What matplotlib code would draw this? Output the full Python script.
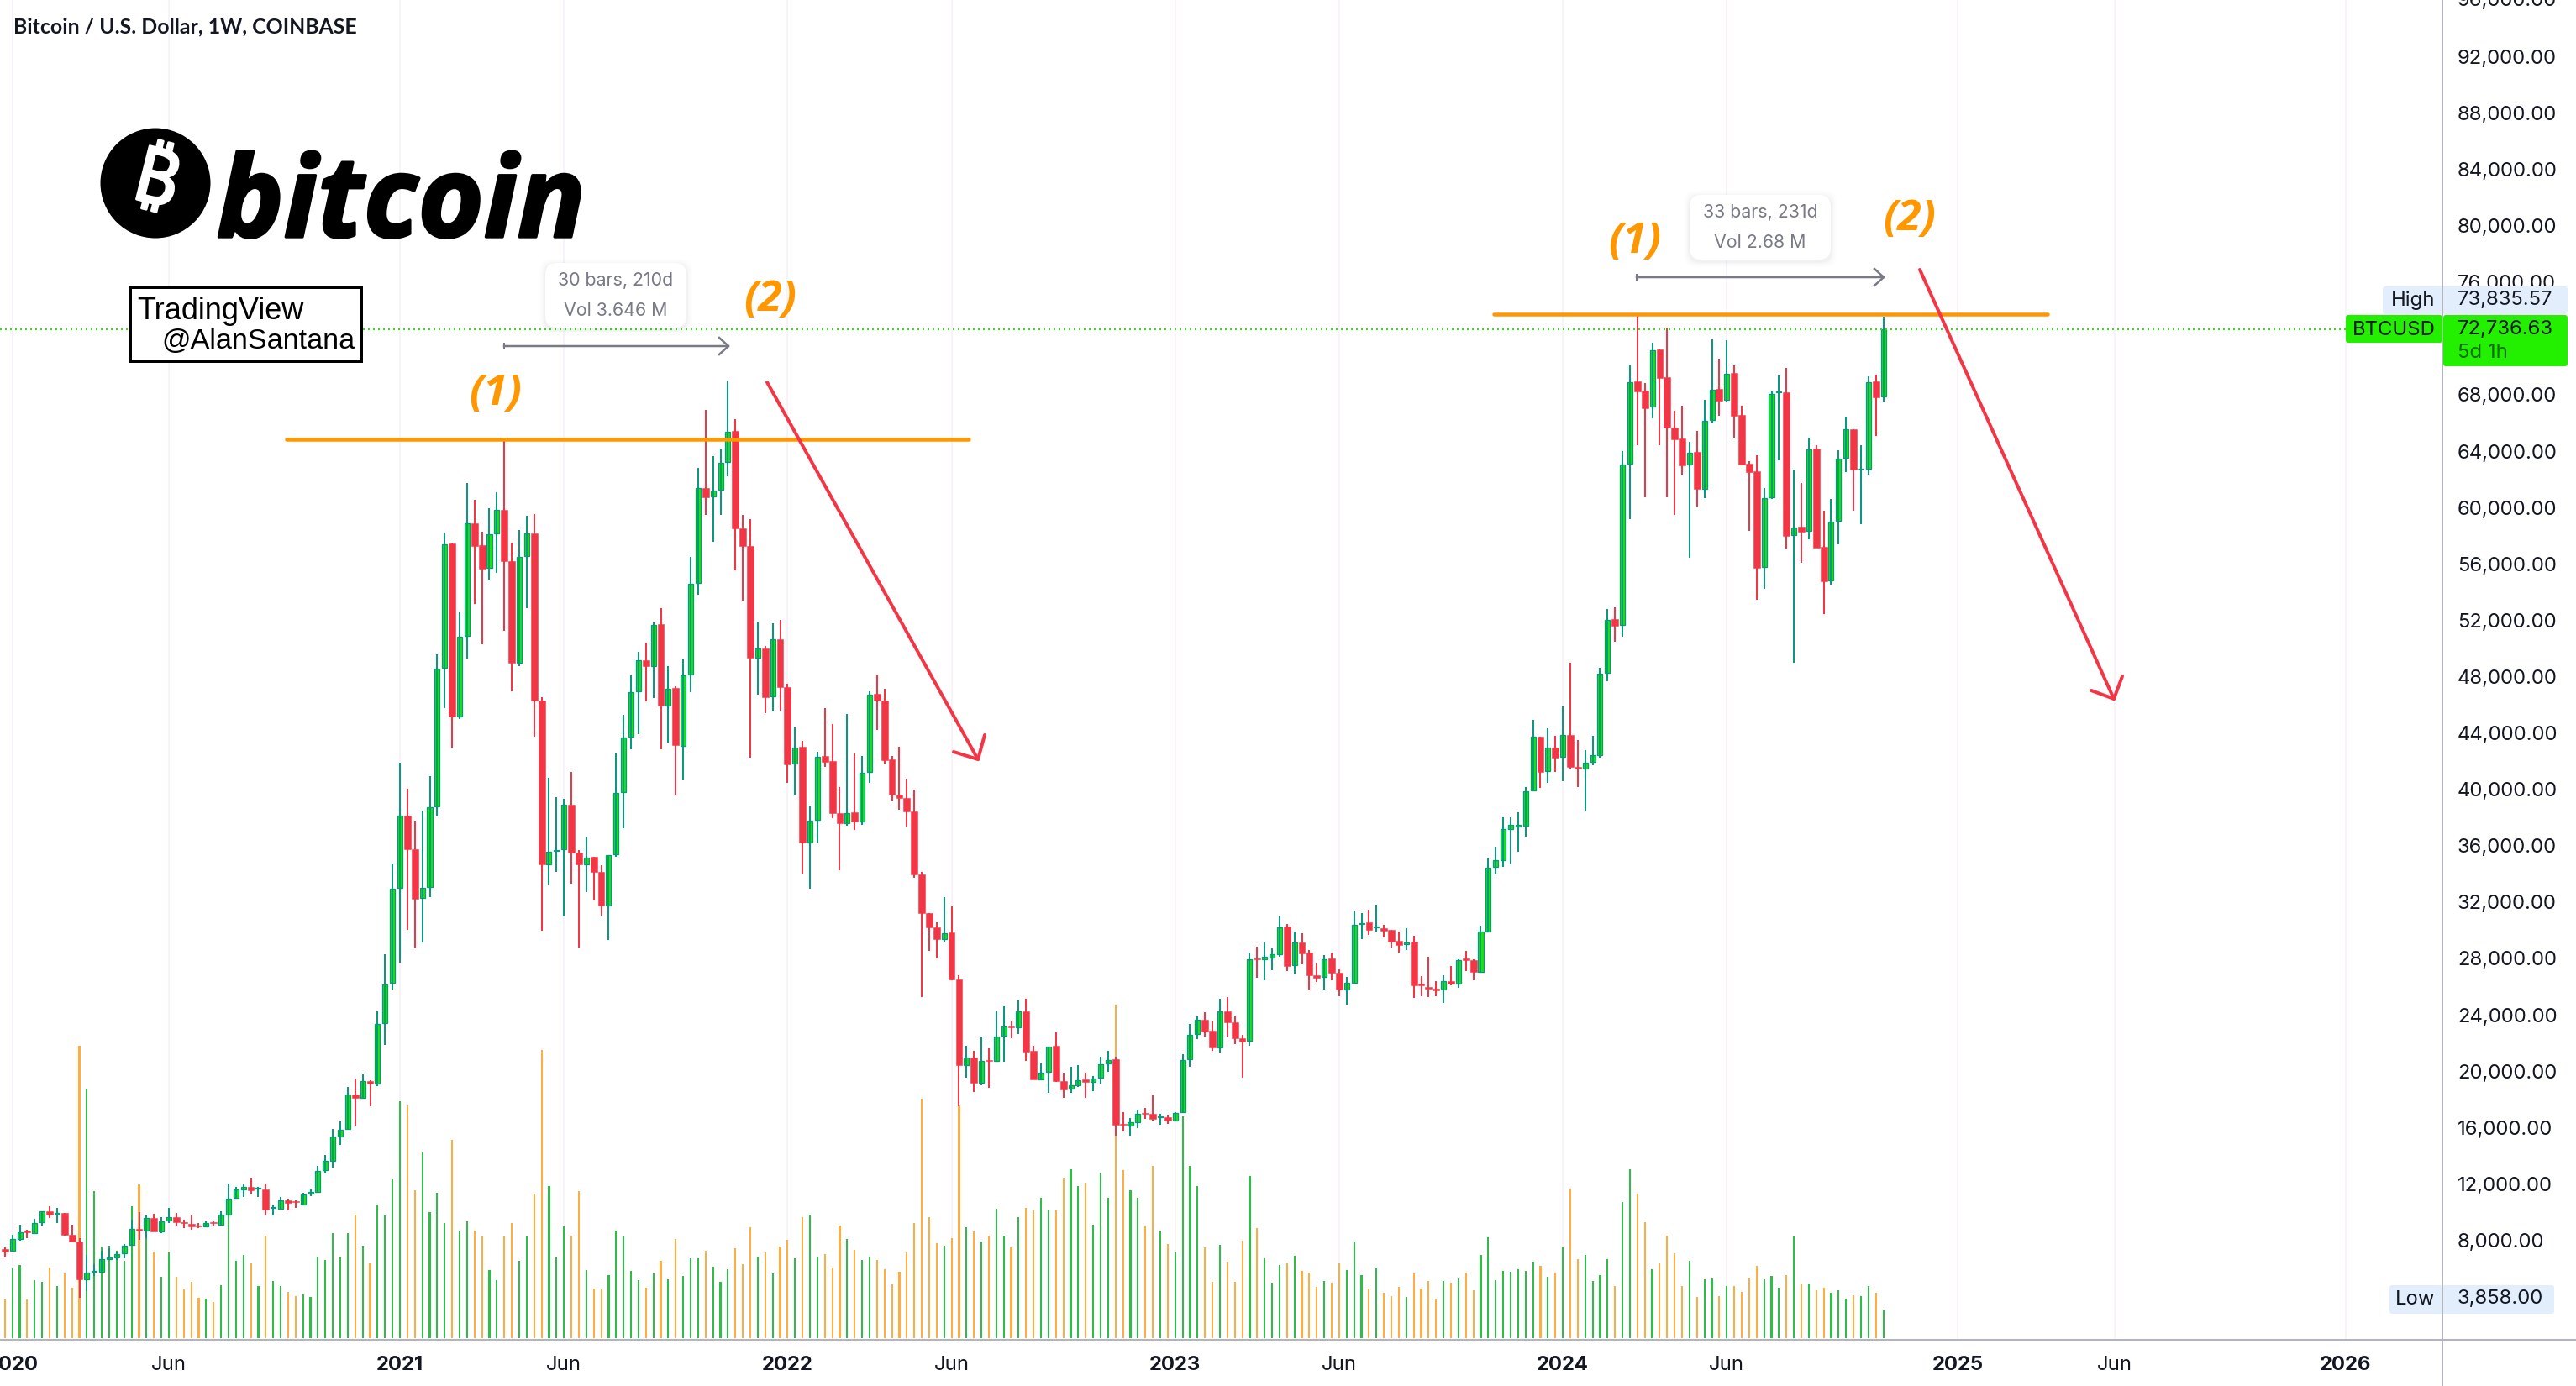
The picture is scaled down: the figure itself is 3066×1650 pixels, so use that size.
import numpy as np
import matplotlib
matplotlib.use('Agg')
import matplotlib.pyplot as plt
from matplotlib.patches import Circle, FancyBboxPatch, Rectangle
from matplotlib.transforms import ScaledTranslation
import matplotlib.patheffects as pe

# weekly BTCUSD candles
opens = [
    7289, 7215, 8031, 8600, 8476, 9194, 9984, 9836, 9861, 8352,
    7858, 5162, 5707, 5732, 6621, 6720, 6992, 7586, 8773, 8600,
    9539, 8575, 9317, 9589, 9243, 9119, 8995, 8946, 9243, 9070,
    9787, 10925, 11567, 11741, 11593, 11567, 10207, 10183, 10801, 10702,
    10479, 11221, 11369, 12903, 13595, 15326, 15821, 18294, 18047, 19234,
    19061, 23339, 26194, 32945, 38054, 35682, 32215, 33006, 38723, 48576,
    57364, 45109, 50826, 58793, 57243, 55661, 58094, 59797, 56117, 48940,
    56482, 58124, 46264, 34618, 35560, 35682, 38875, 35439, 34587, 35135,
    34100, 31698, 35317, 39757, 43680, 46903, 49123, 48697, 51647, 45900,
    47116, 43041, 48089, 54566, 61348, 60739, 61196, 63172, 65362, 58489,
    57181, 49305, 49914, 46538, 50613, 47177, 41764, 42980, 36168, 37780,
    42281, 41946, 38236, 37567, 38297, 37658, 41186, 46690, 46264, 42068,
    39544, 39300, 38358, 33887, 31151, 30116, 29327, 29782, 26437, 20391,
    20891, 19135, 20742, 20643, 22449, 23116, 23042, 24180, 21385, 19382,
    19877, 21732, 19259, 18690, 18912, 19333, 19160, 19457, 20470, 20767,
    16217, 16093, 16316, 16983, 16934, 16686, 16686, 16464, 17008, 20767,
    22572, 23611, 22795, 21633, 24180, 23438, 22300, 22078, 27939, 27865,
    28013, 28236, 30214, 27444, 29101, 28335, 26776, 26603, 27914, 26950,
    25763, 26208, 30362, 30486, 30140, 30115, 29942, 29175, 28928, 29126,
    26134, 25936, 25812, 25713, 26356, 26158, 27914, 27815, 26999, 29868,
    34418, 34888, 37100, 37320, 37348, 39868, 43649, 41225, 42873, 42227,
    43810, 41548, 41419, 41872, 42388, 48200, 52005, 51587, 63032, 68894,
    68218, 67086, 71159, 69192, 65615, 64841, 62973, 63887, 61284, 66132,
    68358, 67563, 69490, 66510, 63052, 62516, 55700, 60648, 68119, 68119,
    57985, 58562, 58264, 64125, 57150, 54766, 58999, 63450, 65496, 62674,
    62694, 68894, 67801,
]
highs = [
    7413, 8352, 9070, 8699, 9441, 9984, 10380, 10207, 9886, 9070,
    8081, 6868, 6226, 7215, 7363, 7165, 7660, 9391, 9959, 9688,
    9836, 9589, 10257, 9886, 9391, 9688, 9144, 9293, 9268, 10009,
    11988, 11741, 11914, 12359, 11741, 11938, 10430, 11023, 10875, 10801,
    11320, 11592, 13224, 13967, 15821, 16365, 18838, 19407, 19728, 19283,
    24180, 28260, 34648, 41855, 39970, 37689, 38419, 40851, 49549, 58185,
    57425, 52529, 61652, 60496, 58246, 59888, 61044, 64784, 57425, 58368,
    59341, 59463, 46507, 40730, 39361, 39270, 41155, 35621, 36594, 35135,
    34557, 35286, 42463, 45200, 48028, 49671, 50339, 51799, 52772, 48697,
    47268, 49153, 56421, 62747, 66883, 63598, 64146, 68889, 66183, 59402,
    59097, 51830, 50127, 51738, 51982, 47420, 44318, 43375, 38813, 42615,
    45717, 44592, 40122, 45291, 42463, 42311, 46873, 48089, 47055, 42311,
    42980, 40669, 39939, 34100, 31151, 30511, 32276, 31607, 26741, 21742,
    21385, 22374, 21559, 24180, 24526, 23512, 24946, 25070, 21756, 20470,
    21707, 22696, 19827, 20223, 20372, 19827, 19580, 20965, 21385, 20965,
    17008, 16637, 17206, 17305, 18269, 16934, 16860, 17008, 21163, 23290,
    23809, 24106, 23488, 25095, 25194, 23883, 22498, 28359, 28804, 29052,
    28656, 30906, 30362, 29868, 29719, 28532, 27568, 28186, 28359, 27246,
    26653, 31302, 31154, 31401, 31747, 30313, 29991, 29868, 30066, 29521,
    26677, 28038, 26331, 26727, 27395, 27889, 28483, 27864, 30239, 35036,
    35852, 37972, 37980, 38317, 40094, 44876, 43649, 44262, 43746, 45813,
    48915, 43422, 42712, 43746, 48590, 52719, 52839, 63927, 70066, 73703,
    68775, 71616, 71159, 72650, 66788, 67165, 64582, 65357, 67563, 71855,
    70503, 71795, 70027, 67145, 63231, 63628, 61304, 68238, 69311, 69848,
    62615, 61661, 64880, 64364, 59694, 60549, 63986, 66371, 65496, 64344,
    69232, 69371, 73464,
]
lows = [
    6745, 7165, 7907, 8081, 8452, 8995, 9490, 9144, 8254, 7833,
    3858, 4321, 5435, 5682, 6548, 6548, 6671, 7537, 7957, 8106,
    8551, 8476, 9144, 8897, 8823, 8699, 8823, 8897, 8897, 9045,
    9762, 10875, 11000, 11247, 11000, 9688, 9712, 10133, 10059, 10207,
    10430, 11098, 11320, 12680, 13076, 14684, 15772, 16068, 17997, 17429,
    18888, 21806, 25737, 27654, 29995, 28627, 29052, 32276, 37993, 45717,
    42919, 44957, 49244, 53107, 50218, 54779, 55327, 51191, 46903, 48697,
    52803, 43680, 29904, 33188, 34100, 30908, 33250, 28687, 32641, 32032,
    30968, 29235, 35165, 37202, 42767, 43862, 46203, 46416, 42767, 43284,
    39513, 40639, 46811, 53776, 59432, 57516, 59402, 62169, 55509, 53259,
    42189, 46629, 45352, 45474, 45504, 40426, 39513, 33948, 32884, 36168,
    41551, 37902, 34192, 37385, 37080, 37446, 40426, 44135, 41794, 39118,
    38480, 37294, 33643, 25221, 28475, 27927, 29144, 26406, 17470, 19497,
    18464, 18962, 18739, 20619, 20619, 22276, 22597, 20668, 19333, 19333,
    18393, 19160, 18022, 18418, 18838, 18022, 18541, 19036, 19901, 15376,
    15673, 15376, 15920, 16563, 16414, 16118, 16192, 16414, 17008, 20248,
    22201, 22374, 21385, 21262, 22374, 21855, 19456, 21756, 26554, 26381,
    27098, 28087, 27049, 26851, 27518, 25664, 26257, 25763, 26405, 25268,
    24650, 26183, 29299, 29620, 29793, 29447, 28730, 28384, 28557, 25119,
    25268, 25218, 25243, 24798, 26035, 25861, 27049, 26381, 26974, 29818,
    33923, 34443, 34616, 35507, 36573, 39804, 40030, 40418, 41193, 40515,
    41387, 40095, 38415, 41678, 42162, 47623, 50414, 50793, 59138, 64364,
    60668, 66291, 64364, 60668, 59436, 62277, 56376, 60032, 60628, 65914,
    66450, 67483, 64900, 63013, 58284, 53415, 54170, 60568, 63291, 56992,
    48925, 56018, 57688, 57111, 52402, 54468, 57350, 62476, 59734, 58780,
    62277, 65039, 67424,
]
closes = [
    7165, 8031, 8501, 8501, 9144, 9984, 9762, 9886, 8303, 7858,
    5162, 5657, 5756, 6597, 6720, 6967, 7561, 8749, 8600, 9515,
    8575, 9268, 9564, 9194, 9169, 8921, 8946, 9169, 9169, 9762,
    10875, 11543, 11741, 11494, 11642, 10133, 10281, 10776, 10603, 10628,
    11172, 11394, 12853, 13571, 15302, 15772, 18269, 18047, 19209, 19036,
    23290, 26084, 32884, 38054, 35682, 32154, 32945, 38662, 48515, 57334,
    45109, 50765, 58793, 57181, 55600, 58063, 59766, 56117, 48940, 56421,
    58094, 46264, 34587, 35499, 35652, 38845, 35439, 34587, 35104, 34100,
    31668, 35286, 39696, 43619, 46842, 49093, 48697, 51617, 45870, 47086,
    43071, 48028, 54536, 61317, 60679, 61135, 63112, 65332, 58489, 57181,
    49305, 49914, 46508, 50583, 47177, 41733, 42919, 36168, 37719, 42250,
    41916, 38236, 37567, 38266, 37628, 41125, 46660, 46264, 42007, 39544,
    39300, 38358, 33887, 31151, 30116, 29297, 29752, 26437, 20372, 20888,
    19135, 20693, 20693, 22424, 23116, 23042, 24155, 21336, 19333, 19852,
    21707, 19234, 18665, 18912, 19308, 19160, 19432, 20446, 20742, 16118,
    16118, 16291, 16909, 16909, 16563, 16761, 16439, 16958, 20717, 22523,
    23586, 22770, 21608, 24155, 23438, 22276, 22053, 27889, 27889, 28038,
    28211, 30165, 27420, 29076, 28310, 26752, 26554, 27889, 26950, 25763,
    26183, 30338, 30461, 29991, 30189, 29917, 29150, 28903, 29101, 26059,
    26059, 25812, 25688, 26331, 26134, 27840, 27840, 26999, 29843, 34393,
    34888, 37100, 37400, 37420, 39804, 43649, 41193, 42873, 42162, 43778,
    41548, 41419, 41839, 42356, 48172, 51984, 51548, 63013, 68854, 68179,
    67006, 71120, 69152, 65615, 64801, 62933, 63847, 61264, 66112, 68318,
    67543, 69450, 66470, 63013, 62476, 55680, 60628, 68020, 68159, 57946,
    58542, 58244, 64085, 57111, 54727, 58959, 63430, 65476, 62655, 62714,
    68854, 67781, 72570,
]
# volume in thousands of BTC, estimated
volumes = [
    56, 100, 104, 55, 83, 80, 101, 75, 93, 72,
    418, 357, 210, 130, 132, 125, 110, 188, 220, 145,
    124, 88, 122, 88, 70, 80, 58, 57, 52, 76,
    178, 110, 119, 107, 74, 146, 82, 75, 66, 60,
    62, 59, 117, 112, 150, 115, 150, 177, 132, 107,
    191, 176, 228, 338, 332, 211, 265, 180, 208, 164,
    283, 154, 167, 154, 145, 97, 83, 145, 164, 110,
    145, 207, 412, 217, 115, 160, 147, 210, 97, 71,
    70, 90, 154, 145, 96, 83, 72, 92, 110, 84,
    142, 89, 114, 114, 125, 102, 81, 98, 129, 106,
    158, 116, 122, 93, 131, 140, 114, 173, 176, 116,
    120, 101, 161, 142, 126, 112, 116, 112, 99, 77,
    95, 122, 165, 342, 173, 136, 132, 143, 332, 158,
    153, 138, 147, 185, 146, 130, 173, 186, 182, 200,
    184, 182, 229, 241, 217, 222, 162, 235, 200, 477,
    240, 211, 200, 161, 246, 152, 135, 123, 317, 246,
    217, 130, 80, 133, 109, 80, 139, 232, 157, 114,
    79, 104, 108, 118, 96, 94, 73, 82, 79, 107,
    97, 138, 90, 71, 101, 65, 60, 73, 59, 92,
    71, 82, 55, 82, 79, 85, 94, 69, 119, 144,
    83, 96, 95, 98, 96, 109, 103, 88, 94, 131,
    214, 113, 119, 82, 90, 113, 75, 194, 241, 206,
    166, 98, 107, 146, 121, 75, 110, 59, 84, 85,
    60, 75, 75, 66, 86, 103, 84, 89, 72, 90,
    145, 78, 78, 68, 72, 65, 68, 57, 61, 60,
    75, 65, 41,
]

# bar numbers of the time axis labels
time_ticks = [1, 22, 53, 75, 105, 127, 157, 179, 209, 231, 262, 283, 314]
time_labels = ['2020', 'Jun', '2021', 'Jun', '2022', 'Jun', '2023', 'Jun', '2024', 'Jun', '2025', 'Jun', '2026']
# 72,000 is hidden behind the last price label on the chart
price_ticks = [p for p in range(8000, 96000, 4000) if p != 72000]

W, H = 3066, 1650
DPI = 200
PT = 72 / DPI  # one picture pixel in points

GRID = '#F8F3FA'
AXIS = '#B2B5BE'
TEXT = '#131722'
LIME = '#18E800'
TEAL = '#089981'
RED = '#F23645'
VOL_UP = '#2EBD47'
VOL_DOWN = '#FFAD40'
ORANGE = '#FF9800'
GREY = '#787B86'
PRICE_GREEN = '#22F000'
PALE = '#E3EEFC'
FONT = 'Inter'

o = np.array(opens)
h = np.array(highs)
l = np.array(lows)
c = np.array(closes)
v = np.array(volumes)
x = np.arange(len(c))
up = c >= o

fig = plt.figure(figsize=(W / DPI, H / DPI), dpi=DPI, facecolor='white')
rect = [0, (H - 1595) / H, 2907 / W, 1595 / H]
xlim = (-0.654, 327.0)

# volume pane sits under the candles and carries grid and time labels
ax_vol = fig.add_axes(rect, zorder=1)
ax_vol.set_xlim(*xlim)
ax_vol.set_ylim(-2.4, 1911.6)
ax_vol.bar(x[up], v[up], width=0.24, color=VOL_UP, linewidth=0)
ax_vol.bar(x[~up], v[~up], width=0.24, color=VOL_DOWN, linewidth=0)
ax_vol.set_xticks(time_ticks)
ax_vol.set_xticklabels(time_labels, fontsize=8.6, color=TEXT, family=FONT)
for lab, txt in zip(ax_vol.get_xticklabels(), time_labels):
    if txt != 'Jun':
        lab.set_fontweight('bold')
ax_vol.tick_params(axis='x', length=0, pad=7)
ax_vol.set_yticks([])
ax_vol.grid(axis='x', color=GRID, linewidth=2 * PT)
ax_vol.set_axisbelow(True)
for side in ['top', 'left', 'right']:
    ax_vol.spines[side].set_visible(False)
ax_vol.spines['bottom'].set_color(AXIS)
ax_vol.spines['bottom'].set_linewidth(2 * PT)

ax = fig.add_axes(rect, zorder=2)
ax.patch.set_visible(False)
ax.set_xlim(*xlim)
ax.set_ylim(876, 95957)
ax.vlines(x[up], l[up], h[up], color=TEAL, linewidth=2 * PT)
ax.vlines(x[~up], l[~up], h[~up], color=RED, linewidth=2 * PT)
ax.bar(x[up], (c - o)[up], bottom=o[up], width=0.68, color=LIME, edgecolor=TEAL, linewidth=1.3 * PT)
ax.bar(x[~up], (o - c)[~up], bottom=c[~up], width=0.88, color=RED, edgecolor=RED, linewidth=0.5 * PT)
ax.axhline(closes[-1], color=PRICE_GREEN, linewidth=2 * PT, linestyle=(0, (1, 2)))
ax.set_xticks([])
ax.yaxis.tick_right()
ax.set_yticks(price_ticks)
ax.set_yticklabels([f'{p:,.2f}' for p in price_ticks], fontsize=8.6, color=TEXT, family=FONT)
ax.tick_params(axis='y', length=0, pad=18 * PT)
label_shift = ScaledTranslation(0, -1 / DPI, fig.dpi_scale_trans)
for lab in ax.get_yticklabels():
    lab.set_transform(lab.get_transform() + label_shift)
for side in ['top', 'left', 'bottom']:
    ax.spines[side].set_visible(False)
ax.spines['right'].set_color(AXIS)
ax.spines['right'].set_linewidth(2 * PT)

# annotations live in an overlay measured in picture pixels
ov = fig.add_axes([0, 0, 1, 1], zorder=5)
ov.set_xlim(0, W)
ov.set_ylim(H, 0)
ov.axis('off')

# lines below the plot: axis carries on to the edges
ov.plot([2907, W], [1595, 1595], color=AXIS, lw=2 * PT)
ov.plot([2907, 2907], [1595, H], color=AXIS, lw=2 * PT)

# top label of the scale is cut by the picture edge
ov.text(2925, 1, '96,000.00', fontsize=8.6, color=TEXT, family=FONT, va='center', ha='left')

ov.text(16, 32, 'Bitcoin / U.S. Dollar, 1W, COINBASE', fontsize=8.95, fontweight='bold',
        family='Lato', color=TEXT, va='center', ha='left')

# logo
ov.add_patch(Circle((185, 218), 65.5, color='black', lw=0))
ov.text(185, 218, '\u20bf', fontsize=33, family=['Noto Sans', 'Inter', 'Roboto', 'Open Sans', 'Lato'],
        fontweight='bold', color='white', rotation=-14, ha='center', va='center',
        path_effects=[pe.withStroke(linewidth=1.0, foreground='white')])
ov.text(258, 282, 'bitcoin', fontsize=48.3, family='Open Sans', fontweight='bold', style='italic',
        color='black', ha='left', va='baseline',
        path_effects=[pe.withStroke(linewidth=1.2, foreground='black')])

# author box
ov.add_patch(Rectangle((155, 342), 275, 88, facecolor='white', edgecolor='black', lw=3 * PT))
ov.text(163, 370, 'TradingView', fontsize=13, family='Liberation Sans', color='black', va='center')
ov.text(192, 407, '@AlanSantana', fontsize=12.3, family='Liberation Sans', color='black', va='center')

# resistance lines
ov.plot([341, 1153], [523, 523], color=ORANGE, lw=4.5 * PT, solid_capstyle='round')
ov.plot([1778, 2437], [374, 374], color=ORANGE, lw=4.5 * PT, solid_capstyle='round')

for tx, ty, s in [(590, 469, '(1)'), (917, 357, '(2)'), (1946, 288, '(1)'), (2273, 261, '(2)')]:
    ov.text(tx, ty, s, fontsize=18.5, family='Open Sans', fontweight='bold', style='italic',
            color=ORANGE, ha='center', va='center')


def date_range_arrow(x0, x1, y):
    ov.plot([x0, x1], [y, y], color=GREY, lw=2.5 * PT)
    ov.plot([x0, x0], [y - 3, y + 3], color=GREY, lw=2 * PT)
    ov.plot([x1 - 11, x1, x1 - 11], [y - 10, y, y + 10], color=GREY, lw=2.5 * PT)


def range_bubble(x0, y0, line1, line2):
    for grow, alpha in [(7, 0.008), (5, 0.012), (3, 0.014), (1.5, 0.018)]:
        ov.add_patch(FancyBboxPatch((x0 + 8 - grow, y0 + 10 - grow), 152 + 2 * grow, 61 + 2 * grow,
                                    boxstyle='round,pad=8,rounding_size=14', facecolor='black',
                                    edgecolor='none', alpha=alpha))
    ov.add_patch(FancyBboxPatch((x0 + 8, y0 + 8), 152, 61, boxstyle='round,pad=8,rounding_size=14',
                                facecolor='white', edgecolor='none'))
    ov.text(x0 + 84, y0 + 21, line1, fontsize=7.7, color=GREY, family=FONT, ha='center', va='center')
    ov.text(x0 + 84, y0 + 57, line2, fontsize=7.7, color=GREY, family=FONT, ha='center', va='center')


range_bubble(649, 313, '30 bars, 210d', 'Vol 3.646 M')
date_range_arrow(600, 867, 412)
range_bubble(2011, 232, '33 bars, 231d', 'Vol 2.68 M')
date_range_arrow(1948, 2242, 330)


def red_arrow(start, tip, wing1, wing2):
    ov.plot([start[0], tip[0]], [start[1], tip[1]], color=RED, lw=4 * PT, solid_capstyle='round')
    ov.plot([wing1[0], tip[0], wing2[0]], [wing1[1], tip[1], wing2[1]], color=RED, lw=4 * PT,
            solid_capstyle='round', solid_joinstyle='round')


red_arrow((913, 455), (1164, 904), (1135, 895), (1172, 875))
red_arrow((2285, 321), (2516, 832), (2489, 822), (2526, 805))

# price scale labels
ov.add_patch(FancyBboxPatch((2838, 343), 216, 29, boxstyle='round,pad=2,rounding_size=3', facecolor=PALE, edgecolor='none'))
ov.plot([2907, 2907], [341, 374], color=AXIS, lw=2 * PT)
ov.text(2872, 358, 'High', fontsize=8.6, color=TEXT, family=FONT, ha='center', va='center')
ov.text(2925, 357, '73,835.57', fontsize=8.6, color=TEXT, family=FONT, ha='left', va='center')

ov.add_patch(FancyBboxPatch((2794, 377), 111, 29, boxstyle='round,pad=2,rounding_size=3', facecolor=PRICE_GREEN, edgecolor='none'))
ov.add_patch(FancyBboxPatch((2910, 377), 144, 57, boxstyle='round,pad=2,rounding_size=3', facecolor=PRICE_GREEN, edgecolor='none'))
ov.text(2849, 393, 'BTCUSD', fontsize=8.6, color=TEXT, family=FONT, ha='center', va='center')
ov.text(2925, 392, '72,736.63', fontsize=8.6, color=TEXT, family=FONT, ha='left', va='center')
ov.text(2925, 420, '5d 1h', fontsize=8.6, color='#0C6A00', family=FONT, ha='left', va='center')

ov.add_patch(FancyBboxPatch((2846, 1532), 192, 30, boxstyle='round,pad=2,rounding_size=3', facecolor=PALE, edgecolor='none'))
ov.plot([2907, 2907], [1530, 1564], color=AXIS, lw=2 * PT)
ov.text(2875, 1547, 'Low', fontsize=8.6, color=TEXT, family=FONT, ha='center', va='center')
ov.text(2925, 1546, '3,858.00', fontsize=8.6, color=TEXT, family=FONT, ha='left', va='center')

fig.savefig('out.png', dpi=DPI, facecolor='white')
